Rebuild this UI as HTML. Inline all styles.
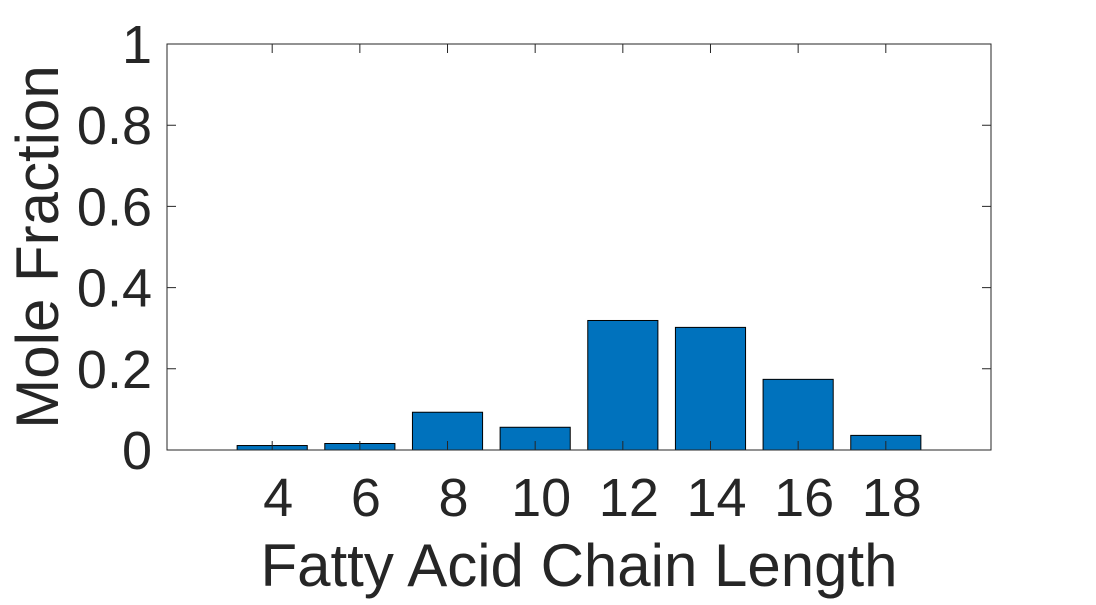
<!DOCTYPE html>
<html><head><meta charset="utf-8"><style>
body{margin:0;background:#fff;}
svg text{font-family:"Liberation Sans",Helvetica,sans-serif;fill:#262626;}
</style></head><body>
<svg id="chart" width="1096" height="600">
<g id="marks"></g>
<rect x="167" y="44" width="824" height="406" fill="none" stroke="#262626" stroke-width="1"/>
<g id="axes"></g>
<text x="579" y="586" font-size="60" text-anchor="middle">Fatty Acid Chain Length</text>
<text transform="translate(58,247) rotate(-90)" font-size="60" text-anchor="middle">Mole Fraction</text>
</svg>
<script>
const categories=["4","6","8","10","12","14","16","18"];
const values=[0.011,0.016,0.093,0.056,0.319,0.302,0.174,0.036];
const yTicks=[0,0.2,0.4,0.6,0.8,1];
const yTickLabels=["0","0.2","0.4","0.6","0.8","1"];
const L=167,R=991,T=44,B=450;
const n=categories.length;
function xs(i){return L+(i+1.2)/((n-1)+2.4)*(R-L);}
function ys(v){return B-v*(B-T);}
const NS="http://www.w3.org/2000/svg";
const marks=document.getElementById('marks'),axes=document.getElementById('axes');
const step=(R-L)/((n-1)+2.4),bw=0.8*step;
values.forEach((v,i)=>{
 const r=document.createElementNS(NS,'rect');
 r.setAttribute('x',xs(i)-bw/2);r.setAttribute('y',ys(v));
 r.setAttribute('width',bw);r.setAttribute('height',B-ys(v));
 r.setAttribute('fill','#0072bd');r.setAttribute('stroke','#000');r.setAttribute('stroke-width','1');
 
 
 marks.appendChild(r);
});
categories.forEach((c,i)=>{
 const x=xs(i);
 const l=document.createElementNS(NS,'path');
 l.setAttribute('d',`M${x},${B}v-9M${x},${T}v9`);l.setAttribute('stroke','#262626');
 
 
 axes.appendChild(l);
 const t=document.createElementNS(NS,'text');
 t.setAttribute('x',x+6);t.setAttribute('y',516);t.setAttribute('font-size','54');t.setAttribute('text-anchor','middle');
 t.textContent=c;
 
 
 axes.appendChild(t);
});
yTicks.forEach((v,i)=>{
 const y=ys(v);
 const l=document.createElementNS(NS,'path');
 l.setAttribute('d',`M${L},${y}h9M${R},${y}h-9`);l.setAttribute('stroke','#262626');
 
 
 axes.appendChild(l);
 const t=document.createElementNS(NS,'text');
 t.setAttribute('x',152);t.setAttribute('y',y+19);t.setAttribute('font-size','54');t.setAttribute('text-anchor','end');
 t.textContent=yTickLabels[i];
 
 
 axes.appendChild(t);
});
</script>
</body></html>
